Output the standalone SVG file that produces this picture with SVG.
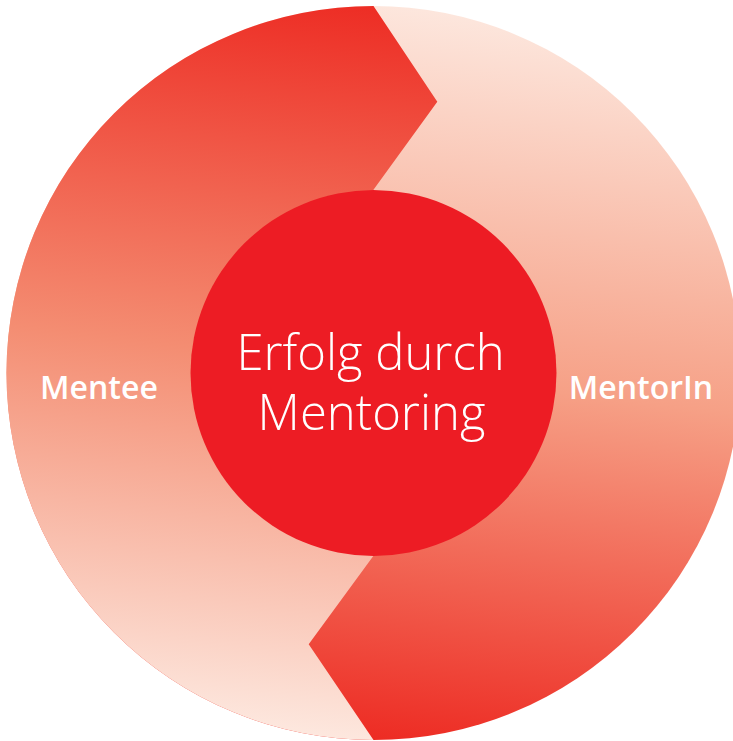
<svg xmlns="http://www.w3.org/2000/svg" width="733" height="741" viewBox="0 0 733 741">
<defs>
<linearGradient id="gLeft" gradientUnits="userSpaceOnUse" x1="420" y1="0" x2="330" y2="740">
<stop offset="0" stop-color="#ED2A22"/>
<stop offset="0.5" stop-color="#F48D72"/>
<stop offset="1" stop-color="#FDE8DF"/>
</linearGradient>
<linearGradient id="gRight" gradientUnits="userSpaceOnUse" x1="420" y1="0" x2="330" y2="740">
<stop offset="0" stop-color="#FDE8DF"/>
<stop offset="0.5" stop-color="#F6A086"/>
<stop offset="1" stop-color="#ED2A22"/>
</linearGradient>
<style>
.lbl{font-family:"Open Sans","Noto Sans","Liberation Sans",sans-serif;fill:#fff;text-anchor:middle}
.side{font-size:32px;font-weight:600}
.core{font-size:49px;font-weight:300}
</style>
</defs>
<g id="mentorin">
<circle cx="373.5" cy="373" r="367" fill="url(#gRight)"/>
<text class="lbl side" x="641" y="399">MentorIn</text>
</g>
<g id="mentee">
<path d="M373.5,6 L437.3,101.7 L373.3,190 L373.3,556 L308.7,644.3 L373.5,740 A367,367 0 0 1 373.5,6 Z" fill="url(#gLeft)"/>
<text class="lbl side" x="99" y="399">Mentee</text>
</g>
<g id="center">
<circle cx="373.5" cy="373" r="183" fill="#ED1C24"/>
<text class="lbl core" x="370.5" y="370">Erfolg durch</text>
<text class="lbl core" x="371.5" y="430">Mentoring</text>
</g>
<g id="connectors"/>
</svg>
